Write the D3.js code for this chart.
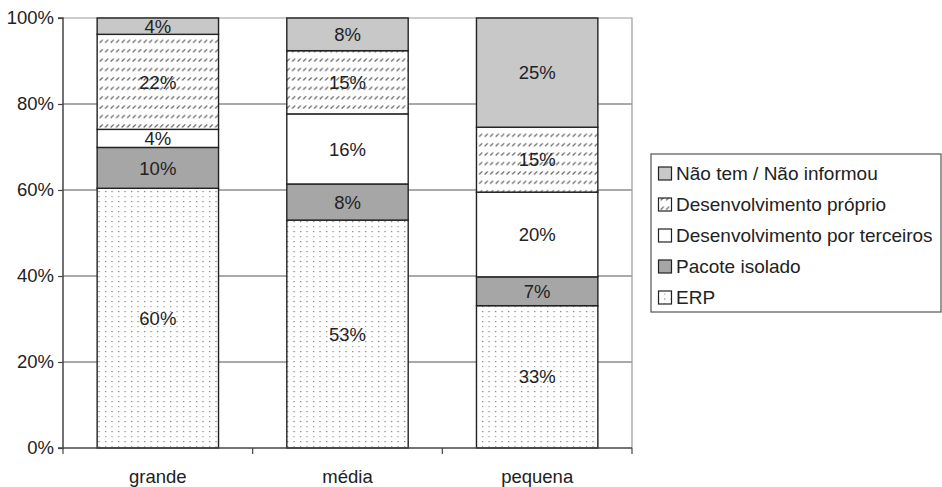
<!DOCTYPE html>
<html>
<head>
<meta charset="utf-8">
<script src="https://cdn.jsdelivr.net/npm/d3@7/dist/d3.min.js"></script>
<style>
  html, body { margin: 0; padding: 0; background: #fff; }
  svg { display: block; font-family: "Liberation Sans", Arial, sans-serif; }
</style>
</head>
<body>
<svg id="chart" width="942" height="487"></svg>
<script>
// ---- data ----
const categories = ["grande", "média", "pequena"];
const seriesNames = ["ERP", "Pacote isolado", "Desenvolvimento por terceiros", "Desenvolvimento próprio", "Não tem / Não informou"];
const erp        = [60.4, 53.0, 33.1];
const pacote     = [9.5, 8.4, 6.7];
const terceiros  = [4.2, 16.3, 19.7];
const proprio    = [22.1, 14.7, 15.1];
const naoTem     = [3.8, 7.6, 25.4];
const yTicks     = [0, 20, 40, 60, 80, 100];
const legendOrder = ["Não tem / Não informou", "Desenvolvimento próprio", "Desenvolvimento por terceiros", "Pacote isolado", "ERP"];

const seriesValues = [erp, pacote, terceiros, proprio, naoTem];
const rows = categories.map((c, i) => {
  const r = { cat: c };
  seriesNames.forEach((s, k) => r[s] = seriesValues[k][i]);
  return r;
});

// ---- layout ----
const svg = d3.select("#chart");
const L = 63, R = 632, T = 18, B = 448;
const textColor = "#222";
const FONT = "'Liberation Sans', Arial, sans-serif";

const defs = svg.append("defs");
const hatch = defs.append("pattern").attr("id", "hatch").attr("patternUnits", "userSpaceOnUse")
  .attr("width", 5.5).attr("height", 9.4);
hatch.append("rect").attr("width", 5.5).attr("height", 9.4).attr("fill", "#fff");
hatch.append("line").attr("x1", 0.6).attr("y1", 5.2).attr("x2", 3.8).attr("y2", 2.2)
  .attr("stroke", "#555").attr("stroke-width", 1.1);
const dots = defs.append("pattern").attr("id", "dots").attr("patternUnits", "userSpaceOnUse")
  .attr("width", 6.5).attr("height", 10);
dots.append("rect").attr("width", 6.5).attr("height", 10).attr("fill", "#fff");
dots.append("rect").attr("x", 1).attr("y", 1).attr("width", 1.2).attr("height", 1.2).attr("fill", "#777");
dots.append("rect").attr("x", 1).attr("y", 6).attr("width", 1.2).attr("height", 1.2).attr("fill", "#999");

const fills = {
  "ERP": "url(#dots)",
  "Pacote isolado": "#a6a6a6",
  "Desenvolvimento por terceiros": "#ffffff",
  "Desenvolvimento próprio": "url(#hatch)",
  "Não tem / Não informou": "#c8c8c8"
};

const x = d3.scaleBand().domain(categories).range([L, R]).paddingInner(0.36).paddingOuter(0.18);
const y = d3.scaleLinear().domain([0, 100]).range([B, T]);

// gridlines
svg.append("g").selectAll("line").data(yTicks.filter(t => t > 0 && t < 100)).join("line")
  .attr("x1", L).attr("x2", R).attr("y1", d => y(d)).attr("y2", d => y(d))
  .attr("stroke", "#555").attr("stroke-width", 1);
// plot border (top & right)
svg.append("path").attr("d", `M${L},${y(100)}H${R}V${B}`).attr("fill", "none")
  .attr("stroke", "#999").attr("stroke-width", 1.2);

// bars
const stack = d3.stack().keys(seriesNames);
const stacked = stack(rows);
const gBars = svg.append("g");
stacked.forEach(layer => {
  gBars.append("g").selectAll("rect").data(layer).join("rect")
    .attr("x", d => x(d.data.cat))
    .attr("width", x.bandwidth())
    .attr("y", d => y(d[1]))
    .attr("height", d => y(d[0]) - y(d[1]))
    .attr("fill", fills[layer.key])
    .attr("stroke", "#222").attr("stroke-width", 1.4);
});
// labels
stacked.forEach(layer => {
  gBars.append("g").selectAll("text").data(layer).join("text")
    .attr("x", d => x(d.data.cat) + x.bandwidth() / 2)
    .attr("y", d => (y(d[0]) + y(d[1])) / 2)
    .attr("dy", "0.36em")
    .attr("text-anchor", "middle")
    .attr("font-size", 18.5)
    .attr("font-family", FONT)
    .attr("fill", textColor)
    .text(d => Math.round(d[1] - d[0]) + "%");
});

// y axis
const yAxis = d3.axisLeft(y).tickValues(yTicks).tickSize(5).tickPadding(4)
  .tickFormat(d => d + "%");
const gy = svg.append("g").attr("transform", `translate(${L},0)`).call(yAxis);
gy.select(".domain").attr("stroke", "#444").attr("stroke-width", 1.5).attr("d", `M-5,${B}H0V${T}H-5`);
gy.selectAll(".tick line").attr("stroke", "#444").attr("stroke-width", 1.2);
gy.selectAll(".tick text").attr("font-size", 18.5).attr("fill", textColor).attr("font-family", FONT);

// x axis
const xAxis = d3.axisBottom(x).tickSize(0).tickPadding(0);
const gx = svg.append("g").attr("transform", `translate(0,${B})`).call(xAxis);
gx.select(".domain").attr("stroke", "#444").attr("stroke-width", 1.5).attr("d", `M${L},0H${R}`);
gx.selectAll(".tick text").attr("font-size", 18.5).attr("fill", textColor)
  .attr("font-family", FONT).attr("dy", null).attr("y", 35);
// boundary ticks
const bounds = categories.map(c => x(c) - x.step() * 0.18).concat([R]);
gx.append("g").selectAll("line").data(bounds).join("line")
  .attr("x1", d => d).attr("x2", d => d).attr("y1", 0).attr("y2", 6)
  .attr("stroke", "#444").attr("stroke-width", 1.2);

// legend
const lg = svg.append("g");
lg.append("rect").attr("x", 651).attr("y", 154).attr("width", 290).attr("height", 158)
  .attr("fill", "#fff").attr("stroke", "#555").attr("stroke-width", 1.2);
const items = lg.selectAll("g.item").data(legendOrder).join("g").attr("class", "item")
  .attr("transform", (d, i) => `translate(0,${173.5 + i * 31})`);
items.append("rect").attr("x", 658.5).attr("y", -6.5).attr("width", 13).attr("height", 13)
  .attr("fill", d => fills[d]).attr("stroke", "#222").attr("stroke-width", 1.2);
items.append("text").attr("x", 676).attr("y", 0).attr("dy", "0.36em")
  .attr("font-size", 19).attr("font-family", FONT).attr("fill", textColor).text(d => d);
</script>
</body>
</html>
